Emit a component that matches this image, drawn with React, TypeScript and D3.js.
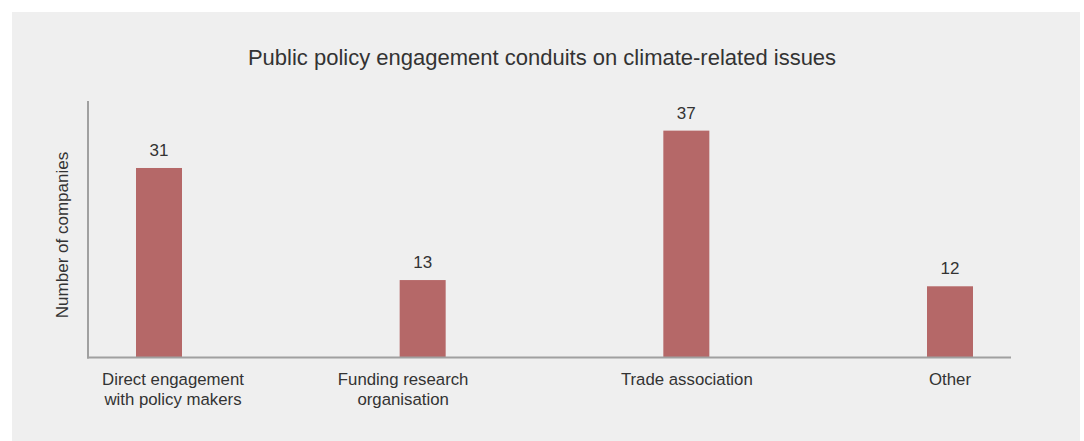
import React from "react";
import * as d3 from "d3";

const categories: string[][] = [
  ["Direct engagement", "with policy makers"],
  ["Funding research", "organisation"],
  ["Trade association"],
  ["Other"],
];
const values: number[] = [31, 13, 37, 12];
const title = "Public policy engagement conduits on climate-related issues";
const yAxisTitle = "Number of companies";

// layout: horizontal nudges of the category labels relative to bar centres
const labelDx: number[] = [14, -19.5, 0.5, 0];

export default function App() {
  const W = 1084;
  const H = 441;
  const baseY = 357.5;
  const axisLeft = 88;
  const axisRight = 1011;
  const axisTop = 101;
  const keys = categories.map((c) => c.join(" "));
  const x = d3.scalePoint<string>().domain(keys).range([159, 950]);
  const y = d3.scaleLinear().domain([0, 42]).range([361, 99.5]);
  const barW = 46;
  const font = "'Liberation Sans', Arial, Helvetica, sans-serif";
  const textColor = "#333333";

  return (
    <svg
      width={W}
      height={H}
      style={{ position: "absolute", left: 0, top: 0, background: "#ffffff" }}
      fontFamily={font}
    >
      <rect x={12} y={12} width={1068} height={429} fill="#efefef" />
      <text x={542} y={65} textAnchor="middle" fontSize={22} fill={textColor}>
        {title}
      </text>
      <text
        transform={`translate(68,235) rotate(-90)`}
        textAnchor="middle"
        fontSize={17}
        fill={textColor}
      >
        {yAxisTitle}
      </text>
      {keys.map((k, i) => {
        const cx = x(k)!;
        const top = y(values[i]);
        return (
          <g key={k}>
            <rect x={cx - barW / 2} y={top} width={barW} height={baseY - top} fill="#b56868" />
            <text x={cx} y={top - 12} textAnchor="middle" fontSize={17} fill={textColor}>
              {values[i]}
            </text>
            {categories[i].map((line, j) => (
              <text
                key={j}
                x={cx + labelDx[i]}
                y={385 + j * 20}
                textAnchor="middle"
                fontSize={16.8}
                fill={textColor}
              >
                {line}
              </text>
            ))}
          </g>
        );
      })}
      <line x1={axisLeft} x2={axisLeft} y1={axisTop} y2={baseY + 1} stroke="#a0a0a0" strokeWidth={2} />
      <line x1={axisLeft - 1} x2={axisRight} y1={baseY} y2={baseY} stroke="#a0a0a0" strokeWidth={2} />
    </svg>
  );
}
